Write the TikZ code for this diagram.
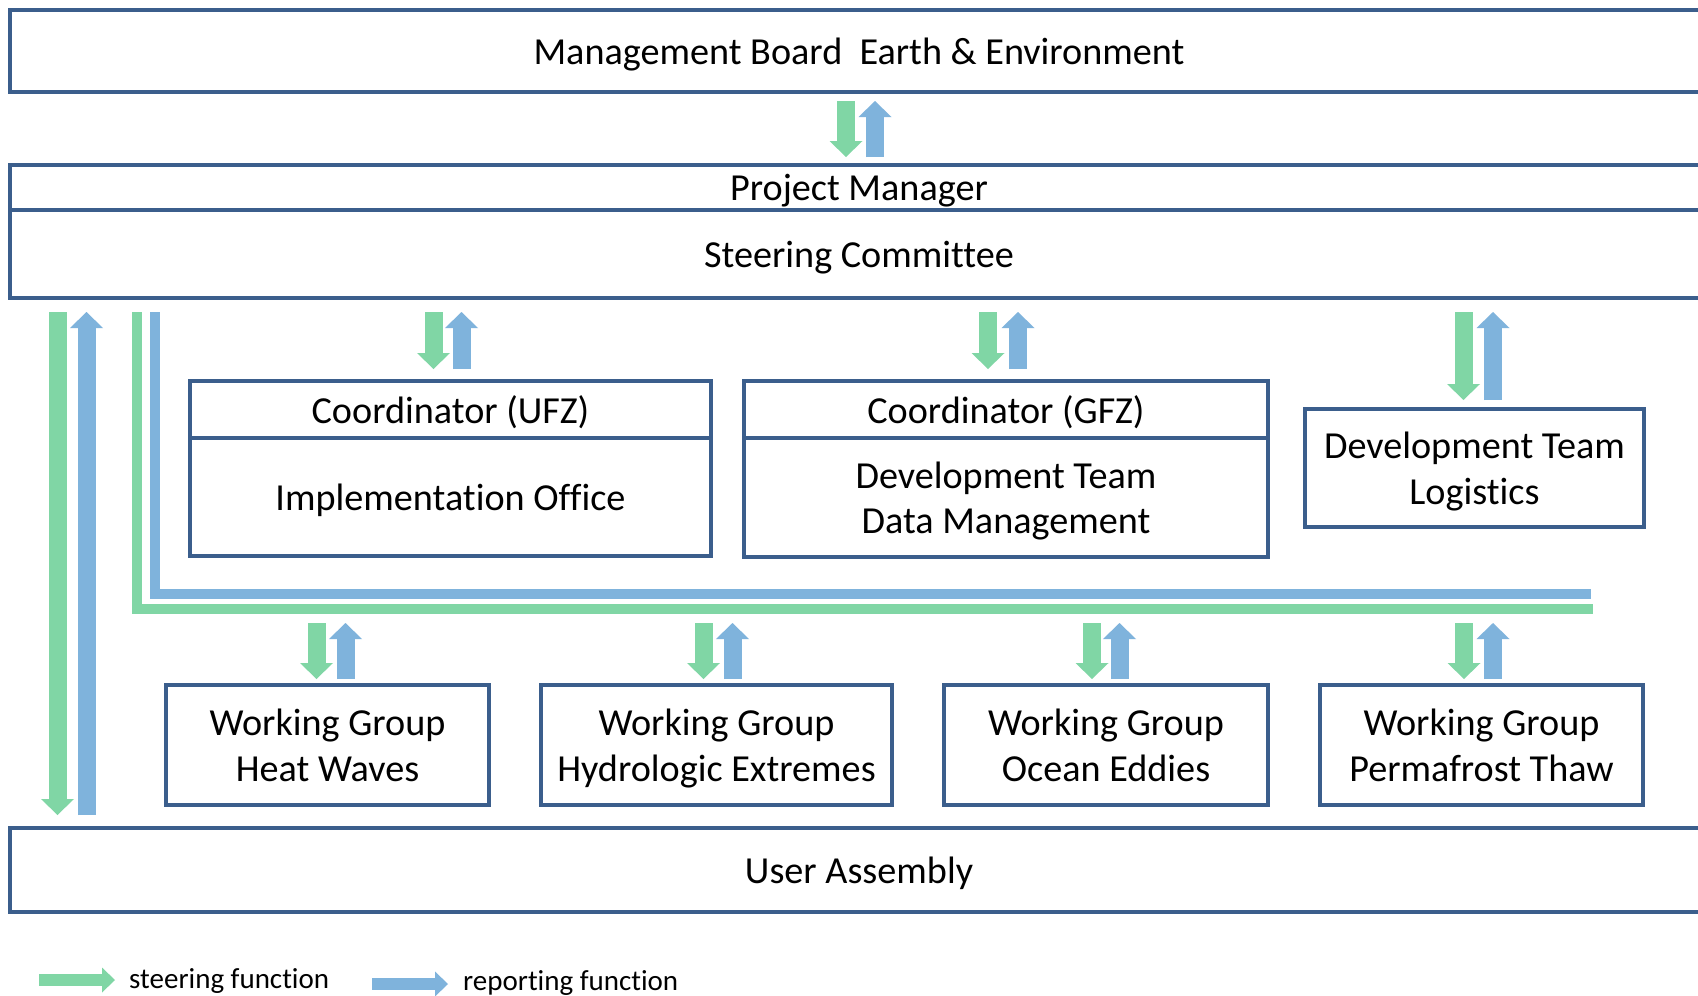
\documentclass[tikz,border=0pt]{standalone}
\usepackage{fontspec}
\setmainfont{Carlito}[Ligatures={NoCommon}]
\usetikzlibrary{arrows.meta,calc}

\definecolor{boxblue}{HTML}{3B5E8C}
\definecolor{steergreen}{HTML}{80D6A5}
\definecolor{reportblue}{HTML}{7FB3DC}

% last line of a label: keep its descenders out of the vertical centring
\newcommand{\lastln}[1]{\raisebox{0pt}[\height][0pt]{#1}}

\tikzset{
  orgbox/.style={draw=boxblue, line width=3.2pt, fill=white, inner sep=0pt,
    outer sep=0pt, anchor=north west, align=center, text=black,
    font=\fontsize{38.2}{45.5}\selectfont},
  blockhead/.style={-{Triangle[width=33pt,length=16pt,line width=0pt]}},
  steer/.style={draw=steergreen, line width=18pt, blockhead},
  report/.style={draw=reportblue, line width=18pt, blockhead},
  steerline/.style={draw=steergreen, line width=10pt, line join=miter},
  reportline/.style={draw=reportblue, line width=10pt, line join=miter},
  legendhead/.style={-{Triangle[width=25pt,length=13pt,line width=0pt]}},
  steerleg/.style={draw=steergreen, line width=12pt, legendhead},
  reportleg/.style={draw=reportblue, line width=12pt, legendhead},
  legendtext/.style={anchor=west, inner sep=0pt, text=black,
    font=\fontsize{29}{35}\selectfont},
}

\begin{document}
\begin{tikzpicture}[x=1pt,y=-1pt]
\useasboundingbox (0,0) rectangle (1698,996);
\clip (0,0) rectangle (1698,996);
\fill[white] (0,0) rectangle (1698,996);

% full-width levels (they run on past the right edge)
\node[orgbox, minimum width=1698pt, minimum height=82pt] (mb) at (10,10)
  {\lastln{Management Board\ \ Earth \& Environment}};
\node[orgbox, minimum width=1698pt, minimum height=45pt] (pm) at (10,165)
  {\lastln{Project Manager}};
\node[orgbox, minimum width=1698pt, minimum height=88pt] (sc) at (10,210)
  {\lastln{Steering Committee}};
\node[orgbox, minimum width=1698pt, minimum height=84pt] (ua) at (10,828)
  {\lastln{User Assembly}};

% coordination and development units
\node[orgbox, minimum width=521pt, minimum height=57pt] (ufzc) at (190,381)
  {\lastln{Coordinator (UFZ)}};
\node[orgbox, minimum width=521pt, minimum height=118pt] (ufzi) at (190,438)
  {\lastln{Implementation Office}};
\node[orgbox, minimum width=524pt, minimum height=57pt] (gfzc) at (744,381)
  {\lastln{Coordinator (GFZ)}};
\node[orgbox, minimum width=524pt, minimum height=119pt] (gfzd) at (744,438)
  {Development Team\\\lastln{Data Management}};
\node[orgbox, minimum width=339pt, minimum height=118pt] (logi) at (1305,409)
  {Development Team\\\lastln{Logistics}};

% working groups
\node[orgbox, minimum width=323pt, minimum height=120pt] (wg1) at (166,685)
  {Working Group\\\lastln{Heat Waves}};
\node[orgbox, minimum width=351pt, minimum height=120pt] (wg2) at (541,685)
  {Working Group\\\lastln{Hydrologic Extremes}};
\node[orgbox, minimum width=324pt, minimum height=120pt] (wg3) at (944,685)
  {Working Group\\\lastln{Ocean Eddies}};
\node[orgbox, minimum width=323pt, minimum height=120pt] (wg4) at (1320,685)
  {Working Group\\\lastln{Permafrost Thaw}};

% board <-> project manager
\draw[steer]  ($(mb.south)+(-13,9)$) -- ($(pm.north)+(-13,-8)$);
\draw[report] ($(pm.north)+(16,-8)$) -- ($(mb.south)+(16,9)$);

% steering committee <-> units
\draw[steer]  ($(sc.south -| ufzc.north)+(-17,14)$) -- ($(ufzc.north)+(-17,-12)$);
\draw[report] ($(ufzc.north)+(11,-12)$) -- ($(sc.south -| ufzc.north)+(11,14)$);
\draw[steer]  ($(sc.south -| gfzc.north)+(-18,14)$) -- ($(gfzc.north)+(-18,-12)$);
\draw[report] ($(gfzc.north)+(12,-12)$) -- ($(sc.south -| gfzc.north)+(12,14)$);
\draw[steer]  ($(sc.south -| logi.north)+(-11,14)$) -- ($(logi.north)+(-11,-9)$);
\draw[report] ($(logi.north)+(18.5,-9)$) -- ($(sc.south -| logi.north)+(18.5,14)$);

% steering committee <-> user assembly
\coordinate (ux1) at (57.5,0);
\coordinate (ux2) at (86.5,0);
\draw[steer]  ($(ux1 |- sc.south)+(0,14)$) -- ($(ux1 |- ua.north)+(0,-13)$);
\draw[report] ($(ux2 |- ua.north)+(0,-13)$) -- ($(ux2 |- sc.south)+(0,14)$);

% distribution lines towards the working groups
\coordinate (gx) at (137,0);
\coordinate (bx) at (155,0);
\coordinate (gend) at (1593,608.5);
\coordinate (bend) at (1591,593.5);
\draw[steerline]  ($(gx |- sc.south)+(0,14)$) |- (gend);
\draw[reportline] ($(bx |- sc.south)+(0,14)$) |- (bend);

% distribution lines <-> working groups
\foreach \w/\g/\b in {wg1/-11/18, wg2/-13/16, wg3/-14/13.5, wg4/-17.5/11.5}{
  \draw[steer]  ($(\w.north)+(\g,-62)$) -- ($(\w.north)+(\g,-6)$);
  \draw[report] ($(\w.north)+(\b,-6)$) -- ($(\w.north)+(\b,-62)$);
}

% legend
\node[legendtext] (lsteer) at (129,981) {steering function};
\node[legendtext] (lreport) at (463,983) {reporting function};
\draw[steerleg]  ($(lsteer.west)+(-90,-1)$) -- ($(lsteer.west)+(-14,-1)$);
\draw[reportleg] ($(lreport.west)+(-91,1)$) -- ($(lreport.west)+(-15,1)$);
\end{tikzpicture}
\end{document}
